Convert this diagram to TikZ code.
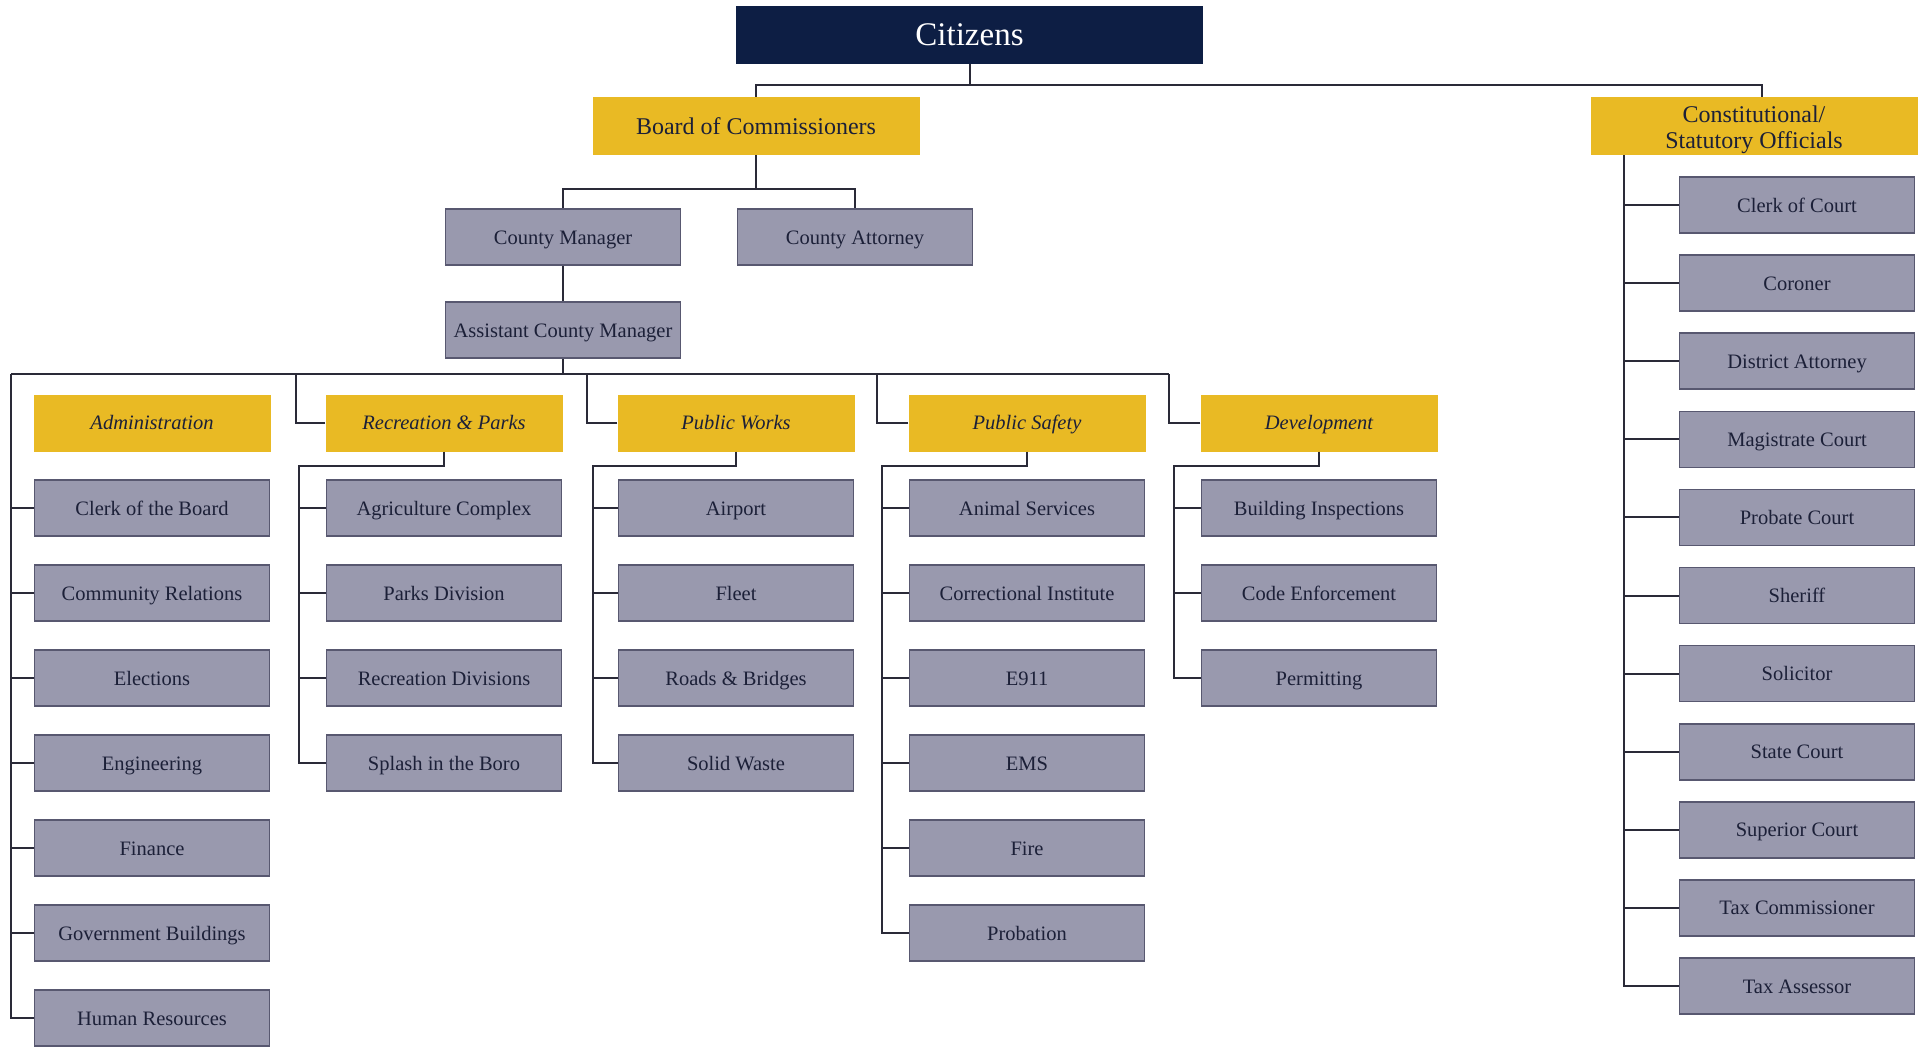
\documentclass[tikz,border=0pt]{standalone}
\usepackage{fontspec}
\setmainfont{Liberation Serif}
\usetikzlibrary{positioning}

\definecolor{citnavy}{RGB}{13,30,68}
\definecolor{boardgold}{RGB}{233,186,36}
\definecolor{unitgray}{RGB}{153,153,174}
\definecolor{unitedge}{RGB}{88,88,112}
\definecolor{inkdark}{RGB}{28,32,56}
\definecolor{wire}{RGB}{42,42,56}

\begin{document}
\begin{tikzpicture}[x=1pt,y=-1pt,node distance=85pt,
            wire line/.style={draw=wire,line width=2pt},
            top node/.style={fill=citnavy,text=white,minimum width=467pt,minimum height=58pt,inner sep=0pt,text height=22pt,text depth=2pt,font=\fontsize{33}{36}\selectfont},
            head node/.style={fill=boardgold,text=inkdark,minimum width=327pt,minimum height=58pt,inner sep=0pt,align=center,font=\fontsize{24}{26}\selectfont},
            dept node/.style={fill=boardgold,text=inkdark,minimum width=237pt,minimum height=57pt,inner sep=0pt,text height=14pt,text depth=1pt,font=\fontsize{20.5}{24}\selectfont\itshape},
            unit node/.style={fill=unitgray,draw=unitedge,line width=1.6pt,text=inkdark,minimum width=235pt,minimum height=56pt,inner sep=0pt,text height=14pt,text depth=0pt,font=\fontsize{20.5}{24}\selectfont}]

        \useasboundingbox (0,0) rectangle (1927,1047);

        % Define top vertices
        \node[top node] (cit) at (969.5,35) {Citizens};
        \node[head node] (boc) at (756,126) {Board of Commissioners};
        \node[head node,text height=50pt] (cso) at (1754,126) {Constitutional/\\Statutory Officials};
        \node[unit node] (cm) at (563,237) {County Manager};
        \node[unit node] (ca) at (855,237) {County Attorney};
        \node[unit node] (acm) at (563,330) {Assistant County Manager};

        % Define departments
        \node[dept node] (adm) at (152,423) {Administration};
        \node[dept node] (rec) at (444,423) {Recreation \& Parks};
        \node[dept node] (pw) at (736,423) {Public Works};
        \node[dept node] (ps) at (1027,423) {Public Safety};
        \node[dept node] (dev) at (1319,423) {Development};

        % Administration
        \node[unit node] (cob) [below of=adm] {Clerk of the Board};
        \node[unit node] (comrel) [below of=cob] {Community Relations};
        \node[unit node] (elect) [below of=comrel] {Elections};
        \node[unit node] (engin) [below of=elect] {Engineering};
        \node[unit node] (fin) [below of=engin] {Finance};
        \node[unit node] (govb) [below of=fin] {Government Buildings};
        \node[unit node] (hr) [below of=govb] {Human Resources};

        % Recreation & Parks
        \node[unit node] (agri) [below of=rec] {Agriculture Complex};
        \node[unit node] (parks) [below of=agri] {Parks Division};
        \node[unit node] (recdiv) [below of=parks] {Recreation Divisions};
        \node[unit node] (splash) [below of=recdiv] {Splash in the Boro};

        % Public Works
        \node[unit node] (airport) [below of=pw] {Airport};
        \node[unit node] (fleet) [below of=airport] {Fleet};
        \node[unit node] (roads) [below of=fleet] {Roads \& Bridges};
        \node[unit node] (waste) [below of=roads] {Solid Waste};

        % Public Safety
        \node[unit node] (animal) [below of=ps] {Animal Services};
        \node[unit node] (correct) [below of=animal] {Correctional Institute};
        \node[unit node] (e911) [below of=correct] {E911};
        \node[unit node] (ems) [below of=e911] {EMS};
        \node[unit node] (fire) [below of=ems] {Fire};
        \node[unit node] (probat) [below of=fire] {Probation};

        % Development
        \node[unit node] (bldg) [below of=dev] {Building Inspections};
        \node[unit node] (code) [below of=bldg] {Code Enforcement};
        \node[unit node] (permit) [below of=code] {Permitting};

        % Constitutional / statutory
        \begin{scope}[node distance=78.1pt]
        \node[unit node] (clerkc) at (1797,205) {Clerk of Court};
        \node[unit node] (coroner) [below of=clerkc] {Coroner};
        \node[unit node] (da) [below of=coroner] {District Attorney};
        \node[unit node] (magis) [below of=da] {Magistrate Court};
        \node[unit node] (probate) [below of=magis] {Probate Court};
        \node[unit node] (sheriff) [below of=probate] {Sheriff};
        \node[unit node] (solic) [below of=sheriff] {Solicitor};
        \node[unit node] (statec) [below of=solic] {State Court};
        \node[unit node] (superc) [below of=statec] {Superior Court};
        \node[unit node] (taxc) [below of=superc] {Tax Commissioner};
        \node[unit node] (taxa) [below of=taxc] {Tax Assessor};
        \end{scope}

        % Bus points
        \coordinate (citbus) at (967,85);
        \coordinate (bocbus) at (757,189);
        \coordinate (acmbus) at (11,374);

        % Draw edges
        \draw[wire line] (cit.south) -- (cit.south |- citbus);
        \draw[wire line] (boc.north) |- (citbus) -| ([xshift=8pt]cso.north);
        \draw[wire line] (boc.south) -- (boc.south |- bocbus);
        \draw[wire line] (cm.north) |- (bocbus) -| (ca.north);
        \draw[wire line] (cm) -- (acm);
        \draw[wire line] (acm.south) -- (acm.south |- acmbus);
        \draw[wire line] (acmbus) -- ([xshift=-31pt]dev.west |- acmbus);

        \draw[wire line] (rec.west) -| ([xshift=-29pt]rec.west |- acmbus);
        \draw[wire line] (pw.west) -| ([xshift=-30pt]pw.west |- acmbus);
        \draw[wire line] (ps.west) -| ([xshift=-31pt]ps.west |- acmbus);
        \draw[wire line] (dev.west) -| ([xshift=-31pt]dev.west |- acmbus);

        % Administration spine
        \draw[wire line] (acmbus) |- (hr.west);
        \draw[wire line] (cob.west) -- (cob.west -| acmbus)
            (comrel.west) -- (comrel.west -| acmbus)
            (elect.west) -- (elect.west -| acmbus)
            (engin.west) -- (engin.west -| acmbus)
            (fin.west) -- (fin.west -| acmbus)
            (govb.west) -- (govb.west -| acmbus);

        % Recreation spine
        \draw[wire line] (rec.south) -- ++(0,14) -| ([xshift=-27pt]agri.west) |- (splash.west);
        \draw[wire line] (agri.west) -- ++(-27,0)
            (parks.west) -- ++(-27,0)
            (recdiv.west) -- ++(-27,0);

        % Public Works spine
        \draw[wire line] (pw.south) -- ++(0,14) -| ([xshift=-25pt]airport.west) |- (waste.west);
        \draw[wire line] (airport.west) -- ++(-25,0)
            (fleet.west) -- ++(-25,0)
            (roads.west) -- ++(-25,0);

        % Public Safety spine
        \draw[wire line] (ps.south) -- ++(0,14) -| ([xshift=-27pt]animal.west) |- (probat.west);
        \draw[wire line] (animal.west) -- ++(-27,0)
            (correct.west) -- ++(-27,0)
            (e911.west) -- ++(-27,0)
            (ems.west) -- ++(-27,0)
            (fire.west) -- ++(-27,0);

        % Development spine
        \draw[wire line] (dev.south) -- ++(0,14) -| ([xshift=-27pt]bldg.west) |- (permit.west);
        \draw[wire line] (bldg.west) -- ++(-27,0)
            (code.west) -- ++(-27,0);

        % Constitutional spine
        \draw[wire line] ([xshift=34pt]cso.south west) |- (taxa.west);
        \draw[wire line] (clerkc.west) -- ++(-55,0)
            (coroner.west) -- ++(-55,0)
            (da.west) -- ++(-55,0)
            (magis.west) -- ++(-55,0)
            (probate.west) -- ++(-55,0)
            (sheriff.west) -- ++(-55,0)
            (solic.west) -- ++(-55,0)
            (statec.west) -- ++(-55,0)
            (superc.west) -- ++(-55,0)
            (taxc.west) -- ++(-55,0);

\end{tikzpicture}
\end{document}
